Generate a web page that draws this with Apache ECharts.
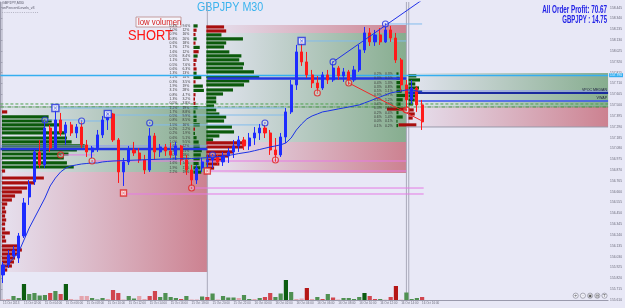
<!DOCTYPE html>
<html>
<head>
<meta charset="utf-8">
<script src="https://cdn.jsdelivr.net/npm/echarts@6/dist/echarts.min.js"></script>
<style>
html, body { margin: 0; padding: 0; background: #e8e8f6; }
#chart { width: 625px; height: 308px; }
</style>
</head>
<body>
<div id="chart"></div>
<script>
// time axis: one label every 4 bars (M30)
const timeLabels = ['15 Oct 2013', '15 Oct 02:00', '15 Oct 04:00', '15 Oct 06:00', '15 Oct 08:00',
  '15 Oct 10:00', '15 Oct 12:00', '15 Oct 14:00', '15 Oct 16:00', '15 Oct 18:00', '15 Oct 20:00',
  '15 Oct 22:00', '16 Oct 00:00', '16 Oct 02:00', '16 Oct 04:00', '16 Oct 06:00', '16 Oct 08:00',
  '16 Oct 10:00', '16 Oct 12:00', '16 Oct 14:00', '16 Oct 16:00']
const SLOTS = 116

// [open, close, low, high]
const candles = [
  [155.853, 155.950, 155.775, 155.979], [155.950, 156.047, 155.920, 156.095], [156.037, 156.095, 156.017, 156.134],
  [156.017, 156.231, 155.969, 156.260], [156.231, 156.551, 156.211, 156.599], [156.609, 156.735, 156.532, 156.774],
  [156.755, 157.046, 156.726, 157.084], [157.046, 156.920, 156.890, 157.162], [156.920, 157.278, 156.890, 157.356],
  [157.278, 157.084, 157.046, 157.308], [157.084, 157.356, 157.065, 157.453], [157.356, 157.230, 157.201, 157.424],
  [157.230, 157.308, 157.114, 157.337], [157.308, 157.230, 157.201, 157.337], [157.230, 157.288, 157.181, 157.317],
  [157.288, 157.114, 157.084, 157.337], [157.114, 157.046, 156.997, 157.162], [157.046, 157.084, 156.987, 157.104],
  [157.084, 157.211, 157.046, 157.259], [157.211, 157.356, 157.181, 157.395], [157.356, 157.414, 157.259, 157.434],
  [157.414, 157.162, 157.143, 157.424], [157.162, 156.852, 156.745, 157.181], [156.852, 156.949, 156.716, 156.987],
  [156.949, 157.065, 156.920, 157.104], [157.065, 157.036, 157.007, 157.143], [157.036, 156.968, 156.939, 157.084],
  [156.968, 156.871, 156.832, 157.017], [156.871, 157.201, 156.852, 157.278], [157.201, 157.046, 156.968, 157.230],
  [157.046, 157.094, 156.997, 157.123], [157.094, 157.055, 157.007, 157.123], [157.055, 157.017, 156.987, 157.133],
  [157.017, 157.104, 156.968, 157.143], [157.104, 156.968, 156.920, 157.114], [156.968, 156.871, 156.823, 157.017],
  [156.871, 156.774, 156.716, 156.920], [156.774, 156.890, 156.735, 156.920], [156.890, 156.949, 156.852, 156.987],
  [156.949, 156.968, 156.890, 157.017], [156.968, 156.997, 156.890, 157.026], [156.997, 156.949, 156.920, 157.017],
  [156.949, 157.007, 156.910, 157.046], [157.007, 157.046, 156.939, 157.084], [157.046, 157.104, 156.987, 157.162],
  [157.104, 157.162, 157.046, 157.201], [157.162, 157.104, 157.065, 157.191], [157.104, 157.181, 157.065, 157.230],
  [157.181, 157.230, 157.114, 157.288], [157.230, 157.278, 157.162, 157.317], [157.278, 157.230, 157.181, 157.308],
  [157.230, 157.065, 157.017, 157.259], [157.065, 157.017, 156.949, 157.181], [157.017, 157.191, 156.997, 157.230],
  [157.191, 157.434, 157.133, 157.472], [157.434, 157.696, 157.414, 157.744], [157.696, 158.016, 157.647, 158.084],
  [158.016, 157.919, 157.880, 158.113], [157.919, 157.793, 157.763, 158.016], [157.793, 157.715, 157.666, 157.841],
  [157.715, 157.666, 157.628, 157.783], [157.666, 157.793, 157.647, 157.822], [157.793, 157.744, 157.705, 157.841],
  [157.744, 157.860, 157.725, 157.919], [157.860, 157.783, 157.744, 157.880], [157.783, 157.822, 157.725, 157.860],
  [157.822, 157.744, 157.696, 157.841], [157.744, 157.841, 157.725, 157.880], [157.841, 158.035, 157.822, 158.084],
  [158.035, 158.200, 158.006, 158.258], [158.200, 158.113, 158.074, 158.248], [158.113, 158.181, 158.074, 158.229],
  [158.181, 158.113, 158.084, 158.248], [158.113, 158.229, 158.103, 158.287], [158.229, 158.151, 158.113, 158.268],
  [158.151, 157.938, 157.909, 158.200], [157.938, 157.696, 157.628, 157.957], [157.696, 157.550, 157.453, 157.744],
  [157.550, 157.666, 157.511, 157.744], [157.666, 157.502, 157.434, 157.686], [157.502, 157.337, 157.259, 157.550]
]

const maValues = [155.920, 155.959, 156.017, 156.076, 156.192, 156.308, 156.405, 156.502, 156.599, 156.716,
  156.793, 156.852, 156.890, 156.910, 156.920, 156.929, 156.934, 156.939, 156.939, 156.949, 156.954, 156.958,
  156.960, 156.962, 156.964, 156.966, 156.968, 156.970, 156.972, 156.974, 156.976, 156.977, 156.978, 156.979,
  156.980, 156.981, 156.982, 156.984, 156.987, 156.990, 156.995, 157.000, 157.005, 157.012, 157.020, 157.030,
  157.038, 157.046, 157.058, 157.070, 157.082, 157.094, 157.104, 157.115, 157.133, 157.181, 157.259, 157.317,
  157.366, 157.395, 157.414, 157.434, 157.443, 157.453, 157.463, 157.472, 157.482, 157.492, 157.502, 157.521,
  157.540, 157.560, 157.579, 157.599, 157.618, 157.628, 157.637, 157.647, 157.647, 157.637, 157.628]

// tick volume per bar and its colour class (g up, G strong up, r down, R strong down, p weak)
const volumes = [30, 60, 240, 120, 960, 360, 420, 270, 300, 420, 540, 360, 960, 60, 20, 240, 240, 120, 30, 120,
  60, 600, 420, 30, 240, 90, 240, 60, 240, 540, 180, 420, 180, 120, 60, 240, 30, 30, 210, 180,
  390, 30, 240, 150, 150, 120, 300, 60, 60, 120, 180, 420, 180, 390, 1200, 480, 60, 90, 720, 60,
  180, 60, 360, 150, 30, 120, 120, 60, 180, 420, 240, 60, 60, 20, 180, 840, 20, 450, 60, 120, 180]
const volKind = ['p', 'p', 'g', 'g', 'G', 'g', 'g', 'g', 'g', 'r', 'g', 'r', 'G', 'p', 'p', 'p', 'p', 'g', 'g', 'g',
  'p', 'r', 'r', 'p', 'g', 'g', 'p', 'p', 'r', 'r', 'g', 'g', 'g', 'g', 'r', 'g', 'p', 'p', 'g', 'r',
  'g', 'p', 'g', 'g', 'g', 'p', 'g', 'g', 'p', 'g', 'r', 'r', 'g', 'g', 'G', 'g', 'p', 'p', 'R', 'p',
  'g', 'r', 'g', 'r', 'p', 'g', 'g', 'g', 'g', 'G', 'r', 'r', 'g', 'p', 'r', 'R', 'p', 'g', 'g', 'g', 'r']

// session boxes: [fromSlot, toSlot, topPrice, bottomPrice, zone]
const zones = [
  [0, 39.5, 157.492, 156.852, 'up'], [0, 39.5, 156.852, 155.882, 'down'],
  [39.5, 77.5, 158.278, 158.200, 'down'], [39.5, 77.5, 158.200, 157.143, 'up'], [39.5, 77.5, 157.143, 156.842, 'down'],
  [77.5, 116, 157.812, 157.482, 'up'], [77.5, 116, 157.482, 157.288, 'down']
]

// volume profiles: [startSlot, price, length in bars, side]
const profileRows = [
  [0.3, 157.434, 1.0, 'r'], [0.3, 157.385, 8.9, 'g'], [0.3, 157.346, 9.5, 'g'], [0.3, 157.308, 11.0, 'g'],
  [0.3, 157.269, 8.2, 'g'], [0.3, 157.230, 12.0, 'g'], [0.3, 157.181, 12.4, 'g'], [0.3, 157.143, 13.3, 'g'],
  [0.3, 157.104, 15.8, 'g'], [0.3, 157.065, 14.3, 'g'], [0.3, 157.026, 12.7, 'g'], [0.3, 156.987, 11.8, 'g'],
  [0.3, 156.939, 12.4, 'g'], [0.3, 156.900, 13.7, 'g'], [0.3, 156.861, 0.6, 'r'], [0.3, 156.793, 8.0, 'r'],
  [0.3, 156.745, 6.3, 'r'], [0.3, 156.696, 4.8, 'r'], [0.3, 156.658, 3.8, 'r'], [0.3, 156.619, 2.5, 'r'],
  [0.3, 156.580, 1.9, 'r'], [0.3, 156.541, 1.0, 'r'], [0.3, 156.502, 0.6, 'r'], [0.3, 156.464, 0.8, 'r'],
  [0.3, 156.425, 0.6, 'r'], [0.3, 156.386, 0.8, 'r'], [0.3, 156.347, 0.6, 'r'], [0.3, 156.299, 0.6, 'r'],
  [0.3, 156.260, 1.5, 'r'], [0.3, 156.221, 0.6, 'r'], [0.3, 156.182, 0.8, 'r'], [0.3, 156.134, 3.4, 'r'],
  [0.3, 156.095, 3.8, 'r'], [0.3, 156.056, 2.9, 'r'], [0.3, 156.017, 2.5, 'r'], [0.3, 155.979, 2.3, 'r'],
  [0.3, 155.940, 1.9, 'r'], [0.3, 155.901, 1.0, 'r'],
  [39.3, 158.258, 3.4, 'r'], [39.3, 158.219, 3.8, 'r'], [39.3, 158.181, 2.9, 'g'], [39.3, 158.142, 7.0, 'g'],
  [39.3, 158.103, 3.8, 'g'], [39.3, 158.064, 3.4, 'g'], [39.3, 158.016, 4.4, 'g'], [39.3, 157.977, 6.7, 'g'],
  [39.3, 157.938, 6.3, 'g'], [39.3, 157.899, 7.2, 'g'], [39.3, 157.860, 7.0, 'g'], [39.3, 157.822, 9.1, 'g'],
  [39.3, 157.773, 10.1, 'g'], [39.3, 157.734, 8.2, 'g'], [39.3, 157.696, 7.2, 'g'], [39.3, 157.647, 5.1, 'g'],
  [39.3, 157.608, 3.2, 'g'], [39.3, 157.569, 1.9, 'g'], [39.3, 157.531, 1.9, 'g'], [39.3, 157.492, 1.5, 'g'],
  [39.3, 157.453, 1.9, 'g'], [39.3, 157.414, 2.5, 'g'], [39.3, 157.385, 3.8, 'g'], [39.3, 157.346, 3.4, 'g'],
  [39.3, 157.288, 4.9, 'g'], [39.3, 157.240, 5.3, 'g'], [39.3, 157.201, 2.5, 'g'], [39.3, 157.162, 1.3, 'g'],
  [39.3, 157.133, 7.6, 'r'], [39.3, 157.094, 7.0, 'r'], [39.3, 157.046, 5.1, 'r'], [39.3, 157.007, 4.2, 'r'],
  [39.3, 156.968, 2.9, 'r'], [39.3, 156.929, 2.5, 'r'], [39.3, 156.890, 1.5, 'r'],
  [77.9, 157.783, 1.5, 'g'], [77.9, 157.744, 2.2, 'g'], [77.9, 157.705, 1.3, 'g'], [77.9, 157.666, 2.0, 'g'],
  [77.9, 157.628, 2.6, 'g'], [77.9, 157.589, 1.8, 'g'], [77.9, 157.550, 1.2, 'g'], [77.9, 157.511, 0.9, 'g'],
  [77.9, 157.453, 1.0, 'r'], [77.9, 157.414, 1.2, 'r'], [77.9, 157.375, 0.8, 'r'],
  [73.8, 157.462, 3.8, 'r'], [76.0, 157.308, 3.4, 'r']
]

// percent tables next to the profiles
const pctLeftA = ['0.4%', '1.0%', '0.9%', '0.8%', '0.6%', '1.7%', '1.6%', '0.5%', '1.1%', '0.5%', '0.6%', '1.3%',
  '1.2%', '0.3%', '1.9%', '3.1%', '0.8%', '1.3%', '0.5%', '1.2%', '1.7%', '0.5%', '0.8%', '1.5%', '0.2%', '0.2%',
  '0.6%', '1.0%', '1.6%', '2.3%', '2.0%', '1.8%', '1.6%', '1.9%', '2.2%']
const pctLeftB = ['9.6%', '12%', '16%', '20%', '18%', '17%', '12%', '8.4%', '11%', '7.6%', '6.3%', '13%', '14%',
  '3.5%', '19%', '28%', '4.7%', '3.2%', '3.8%', '19%', '8.8%', '9.9%', '8.5%', '16%', '2.2%', '1.9%', '5.1%',
  '9.5%', '12%', '21%', '18%', '15%', '14%', '17%', '19%']
const pctLeftBars = [0.8, 0.6, 0.4, 0.6, 0.4, 1.2, 1.0, 0.8, 0.6, 0.4, 0.6, 0.6, 1.5, 0.4, 1.8, 2.0, 0.4, 0.3,
  0.4, 0.8, 0.4, 0.6, 0.6, 1.2, 0.3, 0.3, 0.6, 1.0, 1.2, 1.6, 1.4, 1.2, 1.0, 1.3, 1.5]
const pctLeftSide = ['g', 'r', 'r', 'g', 'r', 'g', 'r', 'g', 'r', 'r', 'r', 'g', 'g', 'r', 'g', 'g', 'r', 'r',
  'r', 'g', 'g', 'g', 'g', 'g', 'r', 'g', 'g', 'g', 'g', 'g', 'g', 'g', 'g', 'g', 'g']
const pctMidA = ['0.2%', '0.3%', '0.4%', '0.3%', '0.5%', '0.9%', '0.6%', '0.4%', '0.3%', '0.2%', '0.6%', '0.0%', '0.1%']
const pctMidB = ['0.3%', '0.5%', '1.3%', '0.8%', '1.1%', '1.7%', '1.2%', '0.9%', '0.6%', '0.4%', '1.4%', '0.1%', '0.2%']
const pctMidBars = [0.4, 0.6, 1.2, 0.8, 1.0, 1.8, 1.2, 0.8, 0.6, 0.4, 1.2, 0.2, 0.3]

// horizontal levels: [fromSlot, toSlot, price, kind]
const hLines = [
  [0, 116, 157.511, 'gdash'], [0, 116, 157.482, 'gdashdot'],
  [0, 39.5, 157.104, 'vpocLight'], [0, 39.5, 157.075, 'vpoc'],
  [39.5, 77.5, 157.759, 'vpoc'],
  [77.9, 116, 157.637, 'vpocLight'], [77.9, 116, 157.618, 'median'], [79.8, 116, 157.540, 'vwap'],
  [77.5, 116, 157.288, 'bid'],
  [17.5, 77.5, 156.958, 'mag'], [39.5, 77.5, 156.861, 'mag'], [36.5, 80.8, 156.696, 'mag'],
  [23.5, 80.8, 156.638, 'mag'], [11.5, 18, 157.017, 'mag'],
  [10.5, 54.5, 157.472, 'lb'], [20.5, 54.3, 157.404, 'lb'], [28.5, 50.5, 157.308, 'lb'],
  [8.5, 15.5, 157.356, 'lb'], [15.5, 20.5, 157.346, 'lb'], [57.5, 77.5, 158.122, 'lb'], [73.5, 80.5, 158.287, 'lb']
]
const separators = [0.3, 39.5, 77.5, 77.95]

// fractal marks: [bar, price]
const blueSquares = [[10, 157.472], [20, 157.414], [57, 158.122]]
const redSquares = [[23, 156.648], [39, 156.861]]
const blueCircles = [[8, 157.356], [15, 157.346], [28, 157.327], [40, 157.017], [50, 157.327], [63, 157.919], [73, 158.287]]
const redCircles = [[11, 157.017], [17, 156.958], [36, 156.696], [52, 156.968], [60, 157.618], [66, 157.715], [77, 157.453]]

const trendUp = [[63, 157.919], [80, 158.52]]
const trendDown = [[66, 157.715], [80, 157.346]]

const cyanLevel = 157.793
const bidLevel = 157.288

const lineStyles = {
  gdash: { color: '#4ea24e', width: 1, dash: [3, 2] },
  gdashdot: { color: '#3a8a3a', width: 1, dash: [4, 1, 1, 1] },
  vpoc: { color: '#2437e2', width: 2.5 },
  vpocLight: { color: '#8a97f2', width: 1 },
  median: { color: '#1a2a9e', width: 2 },
  vwap: { color: '#3a55f0', width: 1.3 },
  mag: { color: '#e57ae5', width: 1 },
  lb: { color: '#82bcec', width: 1 },
  bid: { color: '#9a9aaa', width: 1 }
}
const zoneColors = {
  up: ['rgba(100,150,105,0.04)', 'rgba(96,150,102,0.72)'],
  down: ['rgba(200,110,125,0.06)', 'rgba(195,95,110,0.75)']
}
const volColors = { g: '#4f9052', G: '#0c5c10', r: '#d0464f', R: '#b51616', p: '#e4a4ad' }
const profColors = { g: '#0b5a0b', r: '#a80e0e' }
const crossPath = 'path://M1,0 L5,4 L9,0 L10,1 L6,5 L10,9 L9,10 L5,6 L1,10 L0,9 L4,5 L0,1 Z'

const chart = echarts.init(document.getElementById('chart'))

const categories = []
for (let i = 0; i < SLOTS; i++) categories.push('b' + i)

const pctRows = []
pctLeftA.forEach((t, i) => {
  const p = 158.268 - i * 0.0417
  pctRows.push([32.3, p, t], [34.75, p, pctLeftB[i]])
})
pctMidA.forEach((t, i) => {
  const p = 157.802 - i * 0.0417
  pctRows.push([71.3, p, t], [73.4, p, pctMidB[i]])
})
const pctBars = []
pctLeftBars.forEach((len, i) => pctBars.push([36.85, 158.268 - i * 0.0417, len, pctLeftSide[i]]))
pctMidBars.forEach((len, i) => pctBars.push([75.6, 157.802 - i * 0.0417, len, 'g']))
const allProfiles = profileRows.concat(pctBars)

const lineLabels = [[115.8, 157.628, 'VPOC MEDIAN'], [115.8, 157.550, 'VWAP']]

function zoneItem(params, api) {
  const z = zones[params.dataIndex]
  const a = api.coord([z[0], z[2]])
  const b = api.coord([z[1], z[3]])
  const c = zoneColors[z[4]]
  return {
    type: 'rect',
    shape: { x: a[0], y: a[1], width: b[0] - a[0], height: b[1] - a[1] },
    style: {
      fill: new echarts.graphic.LinearGradient(0, 0, 1, 0, [
        { offset: 0, color: c[0] }, { offset: 1, color: c[1] }
      ])
    }
  }
}

function profileItem(params, api) {
  const r = allProfiles[params.dataIndex]
  const a = api.coord([r[0], r[1]])
  const b = api.coord([r[0] + r[2], r[1]])
  return {
    type: 'rect',
    shape: { x: a[0], y: a[1] - 1.6, width: b[0] - a[0], height: 3.2 },
    style: { fill: profColors[r[3]] }
  }
}

function lineItem(params, api) {
  const s = hLines[params.dataIndex]
  const a = api.coord([s[0], s[2]])
  const b = api.coord([s[1], s[2]])
  const st = lineStyles[s[3]]
  return {
    type: 'line',
    shape: { x1: a[0], y1: a[1], x2: b[0], y2: b[1] },
    style: { stroke: st.color, lineWidth: st.width, lineDash: st.dash || null }
  }
}

function sepItem(params, api) {
  const s = separators[params.dataIndex]
  const a = api.coord([s, 158.5])
  const b = api.coord([s, 155.61])
  return {
    type: 'line',
    shape: { x1: a[0], y1: a[1], x2: b[0], y2: b[1] },
    style: { stroke: '#a9a9ba', lineWidth: 1 }
  }
}

function pctItem(params, api) {
  const r = pctRows[params.dataIndex]
  const a = api.coord([r[0], r[1]])
  return {
    type: 'text',
    style: { x: a[0], y: a[1], text: r[2], fill: '#3a3a3a', font: '3.4px "Liberation Sans"', verticalAlign: 'middle' }
  }
}

function labelItem(params, api) {
  const r = lineLabels[params.dataIndex]
  const a = api.coord([r[0], r[1]])
  return {
    type: 'text',
    style: { x: a[0], y: a[1], text: r[2], fill: '#202040', font: '3.6px "Liberation Sans"', align: 'right', verticalAlign: 'bottom' }
  }
}

const slotAxis = { xAxisIndex: 1, yAxisIndex: 0, coordinateSystem: 'cartesian2d' }

chart.setOption({
  animation: false,
  backgroundColor: '#e8e8f6',
  grid: { left: 0.4, right: 15, top: 2, bottom: 8 },
  xAxis: [
    {
      type: 'category',
      data: categories,
      boundaryGap: true,
      axisLine: { lineStyle: { color: '#9a9aac' } },
      axisTick: { show: false },
      splitLine: { show: false },
      axisLabel: {
        interval: 0,
        fontSize: 3,
        color: '#6a6a7a',
        margin: 2,
        align: 'left',
        fontFamily: 'Liberation Sans',
        formatter: (v, idx) => (idx % 4 === 0 && idx / 4 < timeLabels.length ? timeLabels[idx / 4] : '')
      }
    },
    { type: 'value', min: 0, max: SLOTS, show: false }
  ],
  yAxis: [
    {
      type: 'value',
      position: 'right',
      min: 155.61,
      max: 158.5,
      interval: 0.105,
      scale: true,
      axisLine: { show: true, lineStyle: { color: '#9a9aac' } },
      axisTick: { show: true, length: 2, lineStyle: { color: '#9a9aac' } },
      splitLine: { show: false },
      axisLabel: {
        fontSize: 3.3,
        color: '#6a6a7a',
        margin: 2,
        showMaxLabel: false,
        fontFamily: 'Liberation Sans',
        formatter: v => v.toFixed(3)
      }
    },
    { type: 'value', min: 0, max: 17880, show: false }
  ],
  series: [
    Object.assign({ type: 'custom', z: 1, clip: true, renderItem: zoneItem, data: zones.map(z => [z[0], z[2]]), silent: true }, slotAxis),
    Object.assign({ type: 'custom', z: 2, clip: true, renderItem: sepItem, data: separators.map(s => [s, 157]), silent: true }, slotAxis),
    Object.assign({ type: 'custom', z: 3, clip: true, renderItem: profileItem, data: allProfiles.map(r => [r[0], r[1]]), silent: true }, slotAxis),
    Object.assign({ type: 'custom', z: 4, clip: true, renderItem: lineItem, data: hLines.map(s => [s[0], s[2]]), silent: true }, slotAxis),
    Object.assign({ type: 'custom', z: 4, clip: true, renderItem: pctItem, data: pctRows.map(r => [r[0], r[1]]), silent: true }, slotAxis),
    Object.assign({ type: 'custom', z: 4, clip: true, renderItem: labelItem, data: lineLabels.map(r => [r[0], r[1]]), silent: true }, slotAxis),
    {
      type: 'bar',
      xAxisIndex: 0,
      yAxisIndex: 1,
      z: 5,
      barWidth: 4.2,
      data: volumes.map((v, i) => ({ value: v, itemStyle: { color: volColors[volKind[i]] } }))
    },
    {
      type: 'candlestick',
      xAxisIndex: 0,
      yAxisIndex: 0,
      z: 6,
      barWidth: 2.6,
      data: candles.concat(new Array(SLOTS - candles.length).fill('-')),
      itemStyle: { color: '#1e2cff', color0: '#ff1a1a', borderColor: '#1e2cff', borderColor0: '#ff1a1a', borderWidth: 1 },
      markLine: {
        silent: true,
        symbol: ['none', 'none'],
        data: [
          { yAxis: cyanLevel, lineStyle: { color: '#35aef0', width: 1.3, type: 'solid' },
            label: { backgroundColor: '#35aef0', color: '#ffffff' } },
          { yAxis: bidLevel, lineStyle: { opacity: 0 },
            label: { backgroundColor: '#4a4a5c', color: '#e8e8f0' } }
        ],
        label: { position: 'end', distance: 1, fontSize: 3.3, padding: [0.5, 1], formatter: p => p.value.toFixed(3) }
      }
    },
    {
      type: 'line',
      xAxisIndex: 0,
      yAxisIndex: 0,
      z: 7,
      data: maValues,
      symbol: 'none',
      lineStyle: { color: '#1b33e6', width: 1 }
    },
    {
      type: 'line', xAxisIndex: 0, yAxisIndex: 0, z: 7, data: trendUp, symbol: 'none',
      lineStyle: { color: '#2030e8', width: 1 }
    },
    {
      type: 'line', xAxisIndex: 0, yAxisIndex: 0, z: 7, data: trendDown, symbol: 'none',
      lineStyle: { color: '#f02828', width: 1 }
    },
    {
      type: 'scatter', xAxisIndex: 0, yAxisIndex: 0, z: 8, data: blueSquares, symbol: 'rect', symbolSize: 7,
      itemStyle: { color: '#f4f4ff', borderColor: '#2030e0', borderWidth: 1.4 }
    },
    {
      type: 'scatter', xAxisIndex: 0, yAxisIndex: 0, z: 9, data: blueSquares, symbol: crossPath, symbolSize: 3.6,
      itemStyle: { color: '#2030e0' }
    },
    {
      type: 'scatter', xAxisIndex: 0, yAxisIndex: 0, z: 8, data: redSquares, symbol: 'rect', symbolSize: 6,
      itemStyle: { color: '#fff0f0', borderColor: '#e02020', borderWidth: 1.4 }
    },
    {
      type: 'scatter', xAxisIndex: 0, yAxisIndex: 0, z: 9, data: redSquares, symbol: crossPath, symbolSize: 3,
      itemStyle: { color: '#e02020' }
    },
    {
      type: 'scatter', xAxisIndex: 0, yAxisIndex: 0, z: 8, data: blueCircles, symbol: 'circle', symbolSize: 6,
      itemStyle: { color: 'rgba(255,255,255,0.3)', borderColor: '#2030e0', borderWidth: 1.1 }
    },
    {
      type: 'scatter', xAxisIndex: 0, yAxisIndex: 0, z: 9, data: blueCircles, symbol: 'circle', symbolSize: 1.6,
      itemStyle: { color: '#2030e0' }
    },
    {
      type: 'scatter', xAxisIndex: 0, yAxisIndex: 0, z: 8, data: redCircles, symbol: 'circle', symbolSize: 6,
      itemStyle: { color: 'rgba(255,255,255,0.3)', borderColor: '#e02020', borderWidth: 1.1 }
    },
    {
      type: 'scatter', xAxisIndex: 0, yAxisIndex: 0, z: 9, data: redCircles, symbol: 'circle', symbolSize: 1.6,
      itemStyle: { color: '#e02020' }
    }
  ],
  graphic: [
    { type: 'text', x: 2, y: 1, style: { text: 'GBPJPY,M30', fill: '#555566', font: '3.6px "Liberation Sans"' } },
    { type: 'text', x: 2, y: 6, style: { text: 'onPercentLevels_v3', fill: '#555566', font: '3.6px "Liberation Sans"' } },
    { type: 'text', x: 2, y: 10, style: { text: '- - - - - - - - - - - - - - - - -', fill: '#777788', font: '3.6px "Liberation Sans"' } },
    { type: 'text', x: 197, y: 1.5, scaleX: 0.86, style: { text: 'GBPJPY M30', fill: '#3ab3ee', font: '12.5px "Liberation Sans"', verticalAlign: 'top' } },
    { type: 'rect', shape: { x: 136, y: 17, width: 45, height: 10 }, style: { fill: '#f6f6fc', stroke: '#b88888', lineWidth: 0.8 } },
    { type: 'text', x: 138, y: 17.2, scaleX: 0.82, style: { text: 'low volumen', fill: '#d42020', font: '9.5px "Liberation Sans"', verticalAlign: 'top' } },
    { type: 'text', x: 128, y: 28.5, scaleX: 0.86, style: { text: 'SHORT', fill: '#ff1414', font: '15px "Liberation Sans"', verticalAlign: 'top' } },
    { type: 'text', x: 607, y: 5.5, scaleX: 0.63, style: { text: 'All Order Profit: 70.67', fill: '#2222e6', font: 'bold 10px "Liberation Sans"', align: 'right', verticalAlign: 'top' } },
    { type: 'text', x: 607, y: 15.5, scaleX: 0.6, style: { text: 'GBPJPY : 14.75', fill: '#2222e6', font: 'bold 10px "Liberation Sans"', align: 'right', verticalAlign: 'top' } },
    { type: 'group', x: 573, y: 293, children: ['+', '-', '▣', '▤', 'T'].map((s, i) => ({
      type: 'group', x: i * 7.2, children: [
        { type: 'circle', shape: { cx: 2.7, cy: 2.7, r: 2.6 }, style: { fill: '#f0f0f8', stroke: '#7a7a8a', lineWidth: 0.6 } },
        { type: 'text', style: { x: 2.7, y: 2.9, text: s, fill: '#555', font: '4px "DejaVu Sans"', align: 'center', verticalAlign: 'middle' } }
      ]
    })) }
  ]
})
</script>
</body>
</html>
